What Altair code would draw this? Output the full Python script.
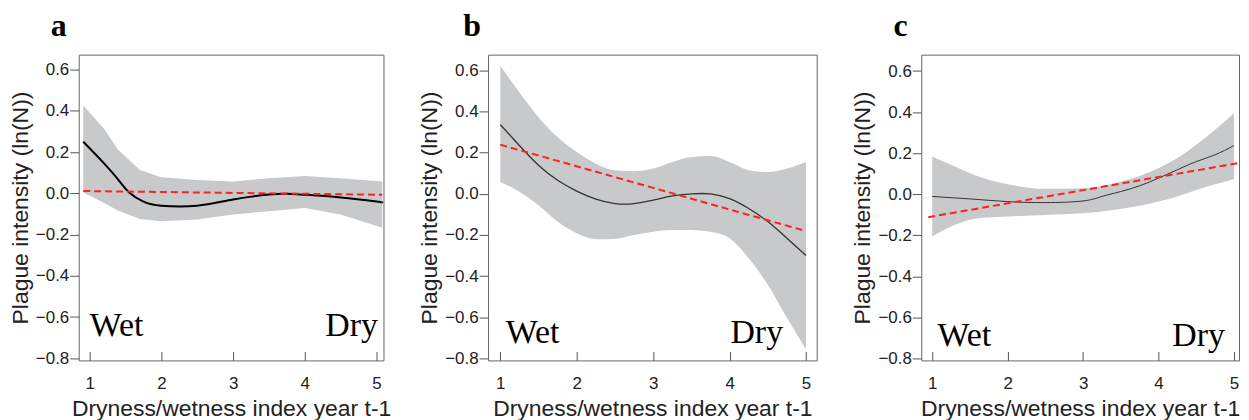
import altair as alt
import pandas as pd

# ---------------- data ----------------
PANEL_LETTERS = ["a", "b", "c"]
X_TICKS = [1, 2, 3, 4, 5]
Y_TICKS = [-0.8, -0.6, -0.4, -0.2, 0.0, 0.2, 0.4, 0.6]
X_TITLE = "Dryness/wetness index year t-1"
Y_TITLE = "Plague intensity (ln(N))"
WET_DRY = ["Wet", "Dry"]

# panel a
A_BAND_X = [0.91, 1.2, 1.4, 1.7, 2.0, 2.5, 3.0, 3.5, 4.0, 4.5, 5.08]
A_BAND_UP = [0.425, 0.313, 0.21, 0.113, 0.078, 0.065, 0.057, 0.073, 0.084, 0.073, 0.057]
A_BAND_LO = [0.004, -0.047, -0.085, -0.125, -0.135, -0.127, -0.103, -0.087, -0.071, -0.103, -0.167]
A_FIT_X = [0.91, 1.2, 1.4, 1.55, 1.75, 2.0, 2.5, 3.0, 3.5, 3.75, 4.0, 4.5, 5.0, 5.08]
A_FIT_Y = [0.25, 0.145, 0.065, 0.004, -0.04, -0.06, -0.06, -0.03, -0.006, -0.002, -0.007, -0.02, -0.04, -0.044]
A_LIN_X = [0.91, 5.08]
A_LIN_Y = [0.011, -0.007]
A_TEXT_X = [1.0, 5.02]
A_TEXT_Y = [-0.69, -0.69]

# panel b
B_BAND_X = [1.0, 1.25, 1.5, 1.75, 2.0, 2.25, 2.5, 2.75, 3.0, 3.25, 3.5, 3.75, 4.0, 4.25, 4.5, 4.75, 5.0]
B_BAND_UP = [0.623, 0.494, 0.373, 0.276, 0.203, 0.147, 0.115, 0.11, 0.123, 0.155, 0.179, 0.184, 0.155, 0.115, 0.106, 0.123, 0.155]
B_BAND_LO = [0.058, 0.01, -0.055, -0.135, -0.192, -0.221, -0.219, -0.2, -0.184, -0.176, -0.176, -0.184, -0.216, -0.313, -0.442, -0.603, -0.756]
B_FIT_X = [1.0, 1.25, 1.5, 1.75, 2.0, 2.25, 2.5, 2.75, 3.0, 3.25, 3.5, 3.75, 4.0, 4.25, 4.5, 4.75, 5.0]
B_FIT_Y = [0.337, 0.235, 0.139, 0.066, 0.013, -0.026, -0.047, -0.047, -0.031, -0.01, 0.0, 0.0, -0.023, -0.071, -0.135, -0.216, -0.30]
B_LIN_X = [1.0, 5.0]
B_LIN_Y = [0.239, -0.181]
B_TEXT_X = [1.07, 4.70]
B_TEXT_Y = [-0.727, -0.727]

# panel c
C_BAND_X = [1.0, 1.25, 1.5, 1.75, 2.0, 2.5, 3.0, 3.5, 4.0, 4.25, 4.5, 4.75, 5.0]
C_BAND_UP = [0.184, 0.143, 0.102, 0.07, 0.049, 0.026, 0.029, 0.062, 0.127, 0.176, 0.241, 0.314, 0.395]
C_BAND_LO = [-0.206, -0.158, -0.125, -0.114, -0.109, -0.101, -0.093, -0.072, -0.036, -0.011, 0.021, 0.049, 0.073]
C_FIT_X = [1.0, 1.5, 2.0, 2.5, 3.0, 3.25, 3.5, 3.75, 4.0, 4.25, 4.5, 4.75, 5.0]
C_FIT_Y = [-0.011, -0.023, -0.036, -0.041, -0.033, -0.011, 0.013, 0.041, 0.078, 0.119, 0.159, 0.192, 0.237]
C_LIN_X = [0.947, 5.08]
C_LIN_Y = [-0.112, 0.153]
C_TEXT_X = [1.07, 4.88]
C_TEXT_Y = [-0.74, -0.74]

# ---------------- styling ----------------
BAND_COLOR = "#c8c9cb"
RED = "#ff2020"
SANS = "Liberation Sans"
SERIF = "Liberation Serif"


def panel(letter, bx, bup, blo, fx, fy, lx, ly, tx, ty, xdom, ydom,
          width, height, curve_color, curve_width, title_dx, band_interp):
    band = pd.DataFrame({"x": bx, "up": bup, "lo": blo})
    fit = pd.DataFrame({"x": fx, "y": fy})
    lin = pd.DataFrame({"x": lx, "y": ly})
    txt = pd.DataFrame({"x": tx, "y": ty, "t": WET_DRY})

    xs = alt.Scale(domain=xdom, nice=False, zero=False)
    ys = alt.Scale(domain=ydom, nice=False, zero=False)

    xax = alt.Axis(values=X_TICKS, format="d", title=X_TITLE, domain=False,
                   offset=-9, tickSize=9, tickColor="#555", labelPadding=15,
                   labelFontSize=17, labelFont=SANS, labelColor="#222",
                   titleFont=SANS, titleFontSize=23, titleFontWeight="normal",
                   titleColor="#222", titlePadding=6, grid=False)
    yax = alt.Axis(values=Y_TICKS, format=".1f", title=Y_TITLE, domain=False,
                   tickSize=9, tickColor="#555", labelPadding=1,
                   labelFontSize=17, labelFont=SANS, labelColor="#222",
                   titleFont=SANS, titleFontSize=23, titleFontWeight="normal",
                   titleColor="#222", titlePadding=3, grid=False)

    area = alt.Chart(band).mark_area(color=BAND_COLOR, opacity=1, clip=True,
                                     interpolate=band_interp).encode(
        x=alt.X("x:Q", scale=xs, axis=xax),
        y=alt.Y("lo:Q", scale=ys, axis=yax),
        y2="up:Q",
    )
    curve = alt.Chart(fit).mark_line(color=curve_color, strokeWidth=curve_width,
                                     clip=True, interpolate="natural").encode(
        x=alt.X("x:Q", scale=xs), y=alt.Y("y:Q", scale=ys))
    trend = alt.Chart(lin).mark_line(color=RED, strokeWidth=2, clip=True,
                                     strokeDash=[7, 4]).encode(
        x=alt.X("x:Q", scale=xs), y=alt.Y("y:Q", scale=ys))
    wet = alt.Chart(txt.iloc[[0]]).mark_text(font=SERIF, fontSize=34,
                                             align="left", baseline="alphabetic",
                                             color="#000").encode(
        x=alt.X("x:Q", scale=xs), y=alt.Y("y:Q", scale=ys), text="t:N")
    dry = alt.Chart(txt.iloc[[1]]).mark_text(font=SERIF, fontSize=34,
                                             align="right", baseline="alphabetic",
                                             color="#000").encode(
        x=alt.X("x:Q", scale=xs), y=alt.Y("y:Q", scale=ys), text="t:N")

    return alt.layer(area, curve, trend, wet, dry).properties(
        width=width, height=height,
        title=alt.TitleParams(letter, anchor="start", frame="group",
                              font=SERIF, fontSize=32, fontWeight="bold",
                              color="#000", dx=title_dx, offset=12),
    )


pa = panel(PANEL_LETTERS[0], A_BAND_X, A_BAND_UP, A_BAND_LO, A_FIT_X, A_FIT_Y,
           A_LIN_X, A_LIN_Y, A_TEXT_X, A_TEXT_Y, [0.847, 5.097], [-0.81, 0.672],
           306, 307, "#000000", 2, -28, "linear")
pb = panel(PANEL_LETTERS[1], B_BAND_X, B_BAND_UP, B_BAND_LO, B_FIT_X, B_FIT_Y,
           B_LIN_X, B_LIN_Y, B_TEXT_X, B_TEXT_Y, [0.84, 5.14], [-0.81, 0.677],
           330, 307, "#333333", 1.3, -25, "monotone")
pc = panel(PANEL_LETTERS[2], C_BAND_X, C_BAND_UP, C_BAND_LO, C_FIT_X, C_FIT_Y,
           C_LIN_X, C_LIN_Y, C_TEXT_X, C_TEXT_Y, [0.855, 5.067], [-0.81, 0.68],
           319, 307, "#333333", 1.0, -28, "monotone")

chart = alt.hconcat(pa, pb, pc, spacing=105, bounds="flush").configure_view(
    stroke="#666666", strokeWidth=1
).properties(padding={"left": 0, "top": 0, "right": 0, "bottom": 0})

chart.save("out.html", embed_options={"renderer": "svg", "actions": False})
